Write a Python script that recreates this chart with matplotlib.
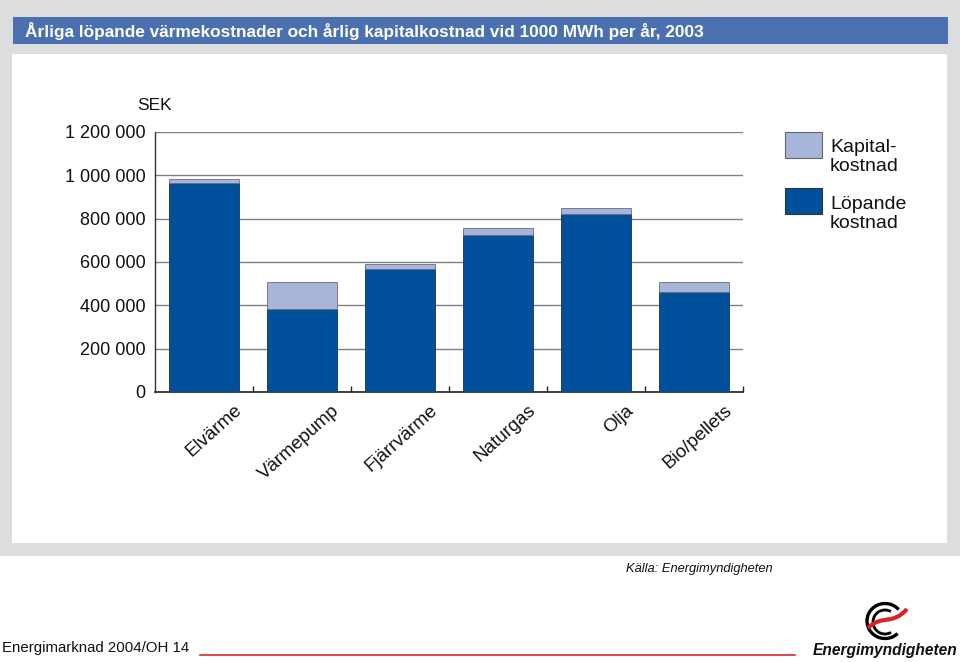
import numpy as np
import matplotlib.pyplot as plt
from matplotlib.patches import Rectangle, Arc, PathPatch
from matplotlib.path import Path
from matplotlib.transforms import ScaledTranslation

plt.rcParams['font.family'] = ['Liberation Sans', 'DejaVu Sans']

# Data (SEK per year)
categories = ['Elvärme', 'Värmepump', 'Fjärrvärme', 'Naturgas', 'Olja', 'Bio/pellets']
lopande = [966000, 384000, 569000, 725000, 823000, 463000]
kapital = [19000, 125000, 20000, 33000, 27000, 46000]
yticks = [0, 200000, 400000, 600000, 800000, 1000000, 1200000]
ytick_labels = ['0', '200 000', '400 000', '600 000', '800 000', '1 000 000', '1 200 000']

dark = '#00509b'
light = '#a8b5da'
gray_bg = '#dcdddf'
title_blue = '#4a70b0'

W, H = 960, 662
fig = plt.figure(figsize=(W / 100, H / 100), dpi=100)

# background layer in pixel coordinates
bg = fig.add_axes([0, 0, 1, 1], zorder=0)
bg.set_xlim(0, W)
bg.set_ylim(H, 0)
bg.axis('off')
bg.add_patch(Rectangle((0, 0), W, 556, color=gray_bg, lw=0))
bg.add_patch(Rectangle((12, 54), 935, 489, color='white', lw=0))
bg.add_patch(Rectangle((13, 17), 935, 27, color=title_blue, lw=0))
bg.text(25, 31, 'Årliga löpande värmekostnader och årlig kapitalkostnad vid 1000 MWh per år, 2003',
        fontweight='bold', fontsize=12.4, color='white', va='center', ha='left')

# y unit
bg.text(154, 106, 'SEK', fontsize=12.5, ha='center', va='center', color='#111111')

# legend
bg.add_patch(Rectangle((785, 132), 37, 26, facecolor=light, edgecolor='#666666', lw=0.8))
bg.add_patch(Rectangle((785, 188), 37, 26, facecolor=dark, edgecolor='#333333', lw=0.8))
bg.text(830, 157, 'Kapital-\nkostnad', fontsize=14, ha='left', va='center',
        linespacing=1.1, color='#111111')
bg.text(830, 214, 'Löpande\nkostnad', fontsize=14, ha='left', va='center',
        linespacing=1.1, color='#111111')

# source and footer
bg.text(699, 569, 'Källa: Energimyndigheten', fontsize=9.3, style='italic',
        ha='center', va='center', color='#111111')
bg.text(2, 648, 'Energimarknad 2004/OH 14', fontsize=10.8, ha='left', va='center',
        color='#111111')
bg.plot([200, 795], [655, 655], color='#d42a2a', lw=1.2)

# logo
bg.add_patch(Arc((885, 621), 36, 35, theta1=45, theta2=320, color='black', lw=2.4))
bg.add_patch(Arc((885, 622), 24, 24, theta1=60, theta2=300, color='black', lw=2.0))
swoosh = Path([(868, 628), (882, 614), (892, 626), (907, 609)],
              [Path.MOVETO, Path.CURVE4, Path.CURVE4, Path.CURVE4])
bg.add_patch(PathPatch(swoosh, facecolor='none', edgecolor='#d8232a', lw=3.0))
bg.text(885, 650, 'Energimyndigheten', fontweight='bold', style='italic',
        fontsize=11.2, ha='center', va='center', color='#111111')

# main chart
left, right, top, bottom = 155, 743, 132, 392
ax = fig.add_axes([left / W, 1 - bottom / H, (right - left) / W, (bottom - top) / H], zorder=1)
ax.set_facecolor('white')
x = np.arange(len(categories))
ax.bar(x, lopande, width=0.72, color=dark, edgecolor='#1b2e5a', lw=0.6, zorder=3)
ax.bar(x, kapital, width=0.72, bottom=lopande, color=light, edgecolor='#6b6b7a', lw=0.6, zorder=3)

ax.set_xlim(-0.5, len(categories) - 0.5)
ax.set_ylim(0, 1200000)
ax.set_yticks(yticks)
ax.set_yticklabels(ytick_labels, fontsize=13, color='#111111')
ax.tick_params(axis='y', length=0, pad=7)
ax.grid(axis='y', color='#808080', lw=1, zorder=0)
ax.set_axisbelow(True)

for s in ['top', 'right']:
    ax.spines[s].set_visible(False)
ax.spines['left'].set_color('#333333')
ax.spines['bottom'].set_color('#222222')
ax.spines['left'].set_linewidth(1)
ax.spines['bottom'].set_linewidth(1.2)

ax.set_xticks(x)
ax.set_xticklabels(categories, rotation=42, ha='right', va='top', fontsize=13.5, color='#111111')
ax.tick_params(axis='x', length=0, pad=7)
offset = ScaledTranslation(0.41, 0, fig.dpi_scale_trans)
for lab in ax.get_xticklabels():
    lab.set_transform(lab.get_transform() + offset)

ax.set_xticks(np.arange(0.5, len(categories), 1.0), minor=True)
ax.tick_params(axis='x', which='minor', direction='in', length=4, width=1, color='#222222')

fig.savefig('out.png', dpi=100)
